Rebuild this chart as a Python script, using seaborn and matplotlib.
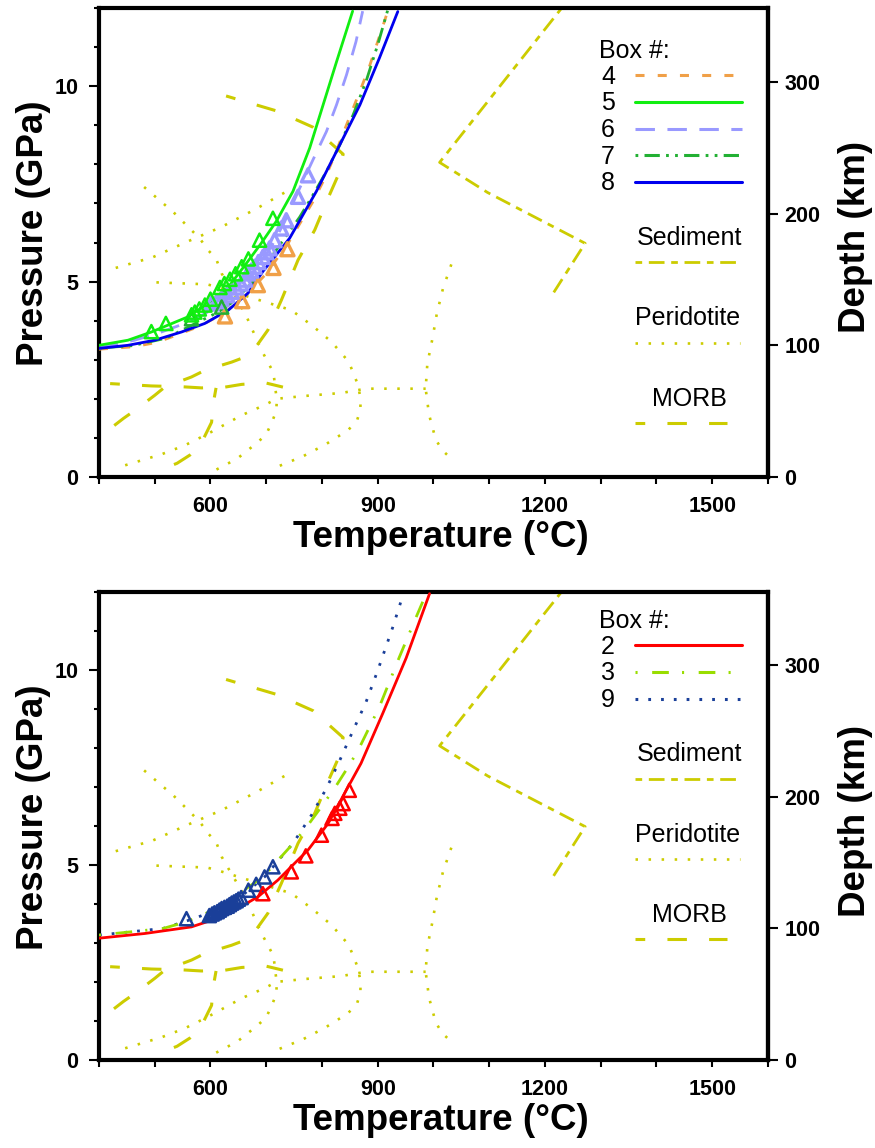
import numpy as np
import matplotlib
matplotlib.use("Agg")
import matplotlib.pyplot as plt
import seaborn as sns

# style first, then fonts (set_style resets font.family)
sns.set_style("ticks")
plt.rcParams['font.family'] = ['Liberation Sans', 'DejaVu Sans']
plt.rcParams['font.weight'] = 'bold'
plt.rcParams['lines.scale_dashes'] = False
for k in ['text.color', 'axes.labelcolor', 'xtick.color', 'ytick.color', 'axes.edgecolor']:
    plt.rcParams[k] = 'black'

# axes ranges and ticks
t_lim = (400, 1600)
p_lim = (0, 12)
depth_lim = (0, 356)          # depth (km) matching 0-12 GPa
t_major = [600, 900, 1200, 1500]
t_minor = np.arange(400, 1601, 100)
p_major = [0, 5, 10]
p_minor = np.arange(0, 13, 1)
depth_ticks = [0, 100, 200, 300]

# ---------------- phase boundaries (T in C, P in GPa), same on both panels ----------------
# Sediment
sed_T = [1230, 1011, 1097, 1272, 1212]
sed_P = [12.0, 8.05, 7.28, 5.98, 4.64]

# Peridotite
per1_T = [481, 534, 581, 596, 610, 620, 632, 663, 691, 713, 719, 718, 711, 700, 684, 648, 608]
per1_P = [7.42, 6.77, 6.10, 5.80, 5.59, 5.21, 4.91, 4.16, 3.26, 2.67, 1.96, 1.69, 1.43, 1.09, 0.88, 0.47, 0.17]
per2_T = [430, 496, 558, 620, 683, 722, 742]
per2_P = [5.35, 5.62, 6.02, 6.40, 6.87, 7.19, 7.35]
per3_T = [503, 594, 615, 745, 782, 817, 848, 864, 869, 869, 863, 847, 826, 806, 766, 723]
per3_P = [4.98, 4.93, 4.85, 4.27, 3.88, 3.46, 2.95, 2.38, 2.03, 1.73, 1.45, 1.20, 1.01, 0.83, 0.53, 0.28]
per4_T = [447, 512, 554, 596, 656, 700, 718, 766, 835, 879, 930, 986]
per4_P = [0.30, 0.58, 0.81, 1.11, 1.58, 1.86, 2.00, 2.07, 2.15, 2.26, 2.26, 2.26]
per5_T = [1032, 1017, 1006, 998, 989, 986, 992, 1004, 1016, 1032]
per5_P = [5.44, 4.82, 4.18, 3.53, 2.90, 2.26, 1.60, 0.96, 0.68, 0.47]

# MORB
morb1_T = [628, 718, 784, 838, 829, 812, 787, 757, 727, 703, 680, 662, 638, 590, 566, 518, 500, 465, 444, 405]
morb1_P = [9.75, 9.37, 8.95, 8.26, 7.72, 7.17, 6.32, 5.55, 4.52, 3.76, 3.30, 3.07, 2.94, 2.73, 2.56, 2.30, 2.09, 1.71, 1.50, 1.07]
morb2_T = [420, 494, 548, 584, 626, 656, 698, 730]
morb2_P = [2.39, 2.33, 2.31, 2.28, 2.30, 2.37, 2.41, 2.30]
morb3_T = [610, 605, 602, 583, 563, 540, 515]
morb3_P = [2.28, 1.88, 1.40, 0.85, 0.56, 0.35, 0.21]

# ---------------- top panel: boxes 4-8 ----------------
box4_T = [400, 461, 503, 539, 581, 625, 660, 700, 740, 784, 808, 823, 844, 868, 885, 906, 918]
box4_P = [3.27, 3.33, 3.44, 3.63, 3.86, 4.20, 4.60, 5.20, 6.00, 7.05, 7.73, 8.24, 9.01, 9.87, 10.50, 11.40, 11.92]
box5_T = [400, 452, 494, 560, 596, 632, 662, 691, 718, 748, 778, 802, 826, 855]
box5_P = [3.37, 3.50, 3.71, 4.10, 4.44, 4.86, 5.42, 5.98, 6.54, 7.31, 8.42, 9.52, 10.62, 11.92]
box6_T = [400, 464, 512, 554, 590, 620, 650, 679, 709, 733, 760, 784, 808, 826, 844, 861, 873]
box6_P = [3.30, 3.50, 3.71, 3.93, 4.18, 4.44, 4.86, 5.29, 5.89, 6.53, 7.39, 8.12, 8.84, 9.52, 10.29, 11.14, 11.92]
box7_T = [400, 460, 520, 566, 614, 644, 679, 709, 735, 760, 784, 808, 832, 856, 879, 900, 918]
box7_P = [3.30, 3.36, 3.55, 3.88, 4.22, 4.52, 5.04, 5.63, 6.15, 6.65, 7.22, 7.82, 8.50, 9.27, 10.12, 11.06, 11.95]
box8_T = [400, 452, 500, 548, 590, 632, 667, 694, 742, 790, 832, 868, 903, 936]
box8_P = [3.29, 3.37, 3.50, 3.71, 3.93, 4.27, 4.70, 5.26, 6.11, 7.31, 8.50, 9.52, 10.72, 11.91]

# model points (triangles)
pts4_T = [626, 657, 685, 713, 738]
pts4_P = [4.11, 4.50, 4.91, 5.35, 5.83]
pts5_T = [494, 520, 566, 572, 580, 590, 600, 617, 625, 635, 645, 656, 668, 688, 712]
pts5_P = [3.72, 3.93, 4.15, 4.22, 4.30, 4.40, 4.55, 4.85, 4.95, 5.06, 5.20, 5.38, 5.58, 6.06, 6.62]
pts6_T = [602, 612, 620, 630, 638, 646, 655, 662, 667, 673, 679, 686, 694, 700, 706, 715, 727, 736, 757, 775]
pts6_P = [4.44, 4.50, 4.55, 4.65, 4.74, 4.85, 4.95, 5.05, 5.21, 5.28, 5.38, 5.50, 5.63, 5.75, 5.85, 6.06, 6.36, 6.57, 7.17, 7.72]
pts7_T = [566, 620]
pts7_P = [4.05, 4.35]

# ---------------- bottom panel: boxes 2, 3, 9 ----------------
box2_T = [400, 482, 566, 602, 644, 685, 721, 751, 775, 811, 847, 870, 909, 951, 993]
box2_P = [3.12, 3.24, 3.41, 3.58, 3.84, 4.18, 4.61, 5.04, 5.38, 6.06, 7.00, 7.60, 8.88, 10.30, 11.95]
box3_T = [400, 462, 515, 557, 605, 652, 694, 713, 751, 775, 799, 823, 847, 865, 903, 939, 969, 987]
box3_P = [3.20, 3.29, 3.37, 3.54, 3.84, 4.27, 4.69, 4.99, 5.59, 6.02, 6.49, 6.97, 7.51, 7.94, 9.05, 10.33, 11.35, 11.95]
box9_T = [400, 515, 572, 620, 660, 697, 730, 748, 781, 808, 832, 856, 879, 900, 927, 945]
box9_P = [3.20, 3.37, 3.63, 3.90, 4.25, 4.69, 5.25, 5.55, 6.27, 6.96, 7.68, 8.45, 9.17, 9.98, 11.09, 11.90]

pts2_T = [694, 745, 771, 799, 818, 823, 832, 838, 849]
pts2_P = [4.26, 4.82, 5.23, 5.76, 6.19, 6.32, 6.45, 6.57, 6.91]
pts9_T = [557, 598, 603, 607, 612, 616, 620, 625, 630, 634, 638, 642, 646, 650, 655, 668, 682, 697, 712]
pts9_P = [3.62, 3.70, 3.74, 3.77, 3.80, 3.84, 3.88, 3.91, 3.94, 3.98, 4.02, 4.05, 4.08, 4.12, 4.16, 4.35, 4.50, 4.69, 4.95]

# colours and line styles
bg_col = '#CCCC00'
sed_ls = (16.1, (11.3, 4.8, 4.8, 4.8))
per_ls = (0, (1.8, 7.6))
morb_ls = (7, (14, 16))
c4, ls4 = '#F0A048', (0, (6.5, 9.5))
c5, ls5 = '#11EE11', '-'
c6, ls6 = '#9999FF', (0, (14, 9))
c7, ls7 = '#22B033', (0, (2, 4.5, 11, 4.5, 2, 4.5))
c8, ls8 = '#0000EE', '-'
c2, ls2 = '#FF0000', '-'
c3, ls3 = '#99DD00', (0, (1.5, 10.5, 12, 9.5))
c9, ls9 = '#1A3F99', (0, (2, 7.2))


def curve(ax, T, P, color, ls, lw=1.9, z=2):
    sns.lineplot(x=T, y=P, ax=ax, color=color, linestyle=ls, linewidth=lw,
                 sort=False, estimator=None, zorder=z)


def points(ax, T, P, color, lw=1.8, z=4):
    sns.scatterplot(x=T, y=P, ax=ax, marker='^', s=90, facecolor='none',
                    edgecolor=color, linewidth=lw, zorder=z)


def background(ax):
    curve(ax, sed_T, sed_P, bg_col, sed_ls, lw=2.0)
    for T, P in [(per1_T, per1_P), (per2_T, per2_P), (per3_T, per3_P),
                 (per4_T, per4_P), (per5_T, per5_P)]:
        curve(ax, T, P, bg_col, per_ls, lw=1.9)
    for T, P in [(morb1_T, morb1_P), (morb2_T, morb2_P), (morb3_T, morb3_P)]:
        curve(ax, T, P, bg_col, morb_ls, lw=2.2)


def draw_key(ax, top, rows):
    # hand made key, laid out like the original figure
    h = 469.0
    txt = dict(transform=ax.transAxes, fontsize=18, fontweight='normal', va='baseline')
    ax.text(0.747, top, 'Box #:', ha='left', **txt)
    y = top - 17 / h
    for label, color, ls in rows:
        ax.text(0.761, y - 8.3 / h, label, ha='center', **txt)
        ax.plot([0.801, 0.961], [y, y], transform=ax.transAxes, color=color,
                linestyle=ls, lw=2.2, clip_on=False)
        y -= 26.7 / h
    y += 26.7 / h
    for name, ls, x1, lw in [('Sediment', sed_ls, 0.961, 2.0), ('Peridotite', per_ls, 0.958, 1.9),
                             ('MORB', morb_ls, 0.938, 2.2)]:
        base = y - 63 / h
        ax.text(x1, base, name, ha='right', **txt)
        y = base - 17.4 / h
        ax.plot([0.801, x1], [y, y], transform=ax.transAxes, color=bg_col,
                linestyle=ls, lw=lw, clip_on=False)


def setup(ax, p_lab_y, d_lab_y):
    ax.set_xlim(*t_lim)
    ax.set_ylim(*p_lim)
    ax.set_xticks(t_major)
    ax.set_xticks(t_minor, minor=True)
    ax.set_yticks(p_major)
    ax.set_yticks(p_minor, minor=True)
    ax.tick_params(axis='x', which='both', direction='out', length=5, width=1.5,
                   pad=9, labelsize=15.5)
    ax.tick_params(axis='y', which='major', direction='out', length=7.2, width=1.5,
                   pad=7.5, labelsize=15.5)
    ax.tick_params(axis='y', which='minor', direction='out', length=3.6, width=1.5)
    for s in ax.spines.values():
        s.set_visible(True)
        s.set_linewidth(3)
        s.set_color('black')
    ax.set_xlabel('Temperature (°C)', fontsize=26.5, fontweight='bold')
    ax.xaxis.set_label_coords(0.511, -0.149)
    ax.xaxis.label.set_va('baseline')
    ax.set_ylabel('Pressure (GPa)', fontsize=26.5, fontweight='bold')
    ax.yaxis.set_label_coords(-0.0833, p_lab_y)
    ax.yaxis.label.set_va('baseline')

    axr = ax.twinx()
    axr.set_ylim(*depth_lim)
    axr.set_yticks(depth_ticks)
    axr.tick_params(axis='y', which='major', direction='out', length=7.2, width=1.5,
                    pad=4.5, labelsize=15.5)
    for side in ['left', 'top', 'bottom']:
        axr.spines[side].set_visible(False)
    axr.spines['right'].set_linewidth(3)
    axr.spines['right'].set_color('black')
    axr.set_ylabel('Depth (km)', fontsize=26.5, fontweight='bold')
    axr.yaxis.set_label_coords(1.145, d_lab_y)
    axr.yaxis.label.set_va('baseline')


fig = plt.figure(figsize=(8.75, 11.48), dpi=100)
ax1 = fig.add_axes([0.1131, 0.5845, 0.7646, 0.4085])
ax2 = fig.add_axes([0.1131, 0.0767, 0.7646, 0.4079])

# top panel
background(ax1)
curve(ax1, box4_T, box4_P, c4, ls4, lw=2.0, z=3)
curve(ax1, box7_T, box7_P, c7, ls7, lw=2.0, z=3)
curve(ax1, box6_T, box6_P, c6, ls6, lw=2.0, z=3)
curve(ax1, box5_T, box5_P, c5, ls5, lw=2.0, z=3)
curve(ax1, box8_T, box8_P, c8, ls8, lw=2.0, z=3)
points(ax1, pts4_T, pts4_P, c4, lw=2.4)
points(ax1, pts6_T, pts6_P, c6, lw=2.4)
points(ax1, pts7_T, pts7_P, c7)
points(ax1, pts5_T, pts5_P, c5)
draw_key(ax1, 0.8928, [('4', c4, ls4), ('5', c5, ls5), ('6', c6, ls6),
                       ('7', c7, ls7), ('8', c8, ls8)])
setup(ax1, 0.5205, 0.512)

# bottom panel
background(ax2)
curve(ax2, box9_T, box9_P, c9, ls9, lw=2.0, z=3)
curve(ax2, box3_T, box3_P, c3, ls3, lw=2.0, z=3)
curve(ax2, box2_T, box2_P, c2, ls2, lw=2.0, z=3)
points(ax2, pts9_T, pts9_P, c9)
points(ax2, pts2_T, pts2_P, c2)
draw_key(ax2, 0.9218, [('2', c2, ls2), ('3', c3, ls3), ('9', c9, ls9)])
setup(ax2, 0.519, 0.510)

fig.savefig('out.png', dpi=100)
